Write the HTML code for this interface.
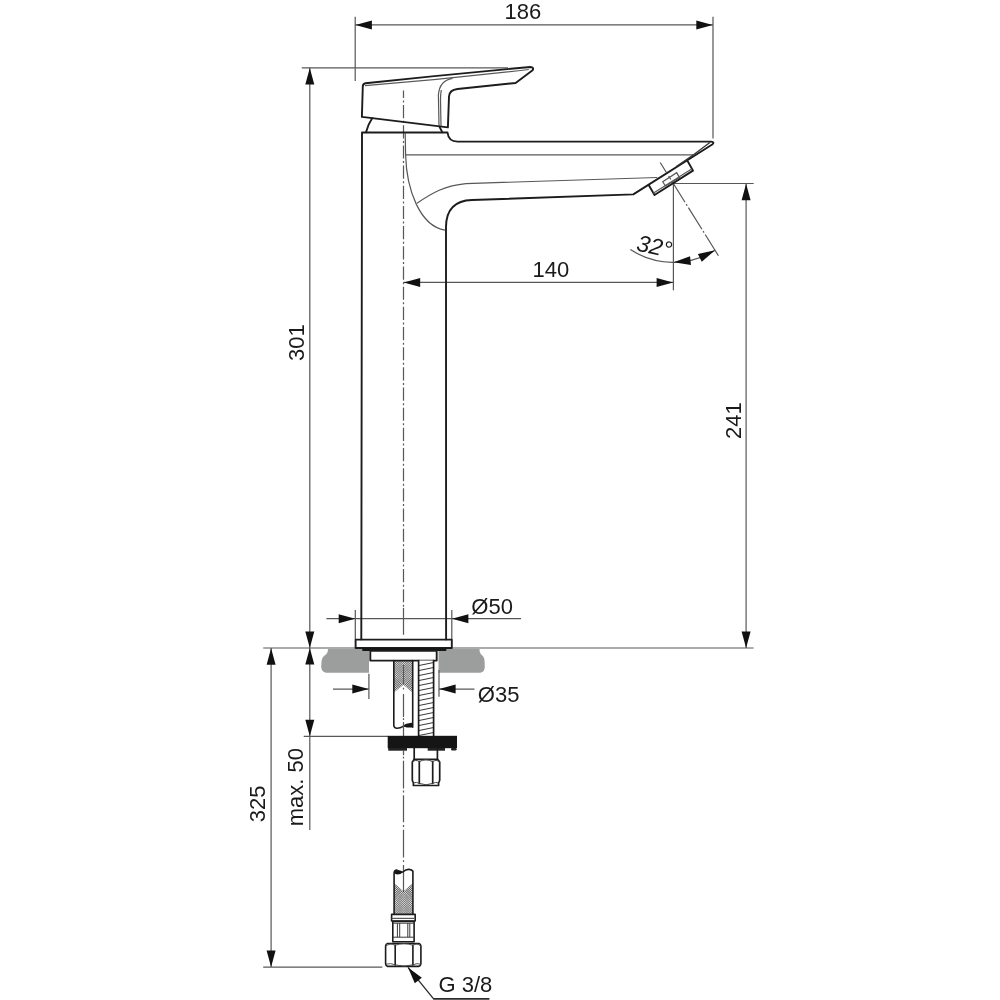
<!DOCTYPE html>
<html><head><meta charset="utf-8"><title>Technical drawing</title>
<style>
html,body{margin:0;padding:0;background:#fff;}
body{width:1000px;height:1000px;overflow:hidden;}
svg{display:block;will-change:transform;}
text{font-family:"Liberation Sans",sans-serif;fill:#1a1a1a;}
</style></head>
<body>
<svg width="1000" height="1000" viewBox="0 0 1000 1000">
<rect width="1000" height="1000" fill="#fff"/>
<path d="M328,649 L369,649 L369,672.7 L326,672.7 Q321.5,672 321.2,667 L321.5,661.5 Q322,656.5 326,654.5 Q328.2,653 328,649 Z" fill="#9c9e9d"/>
<path d="M438.5,649 L479.5,649 Q479.2,653 481.2,654.5 Q484.5,656.5 484.6,661.5 L484.8,667 Q484.6,672 480.5,672.7 L438.5,672.7 Z" fill="#9c9e9d"/>
<line x1="355.2" y1="16.8" x2="355.2" y2="81" stroke="#585858" stroke-width="1.22" fill="none" />
<line x1="713.0" y1="16.8" x2="713.0" y2="138.4" stroke="#585858" stroke-width="1.22" fill="none" />
<line x1="355.2" y1="24.9" x2="713" y2="24.9" stroke="#585858" stroke-width="1.22" fill="none" />
<polygon points="355.40,24.90 371.90,20.40 371.90,29.40" fill="#111"/>
<polygon points="712.80,24.90 696.30,29.40 696.30,20.40" fill="#111"/>
<line x1="301.8" y1="67.8" x2="508" y2="67.8" stroke="#585858" stroke-width="1.22" fill="none" />
<line x1="309.8" y1="67.8" x2="309.8" y2="829.9" stroke="#585858" stroke-width="1.22" fill="none" />
<polygon points="309.80,68.00 314.30,84.50 305.30,84.50" fill="#111"/>
<polygon points="309.80,648.00 305.30,631.50 314.30,631.50" fill="#111"/>
<line x1="263.2" y1="648.0" x2="753.6" y2="648.0" stroke="#585858" stroke-width="1.22" fill="none" />
<line x1="673.3" y1="183.5" x2="753.7" y2="183.5" stroke="#585858" stroke-width="1.22" fill="none" />
<line x1="746.1" y1="183.5" x2="746.1" y2="648.0" stroke="#585858" stroke-width="1.22" fill="none" />
<polygon points="746.10,183.70 750.60,200.20 741.60,200.20" fill="#111"/>
<polygon points="746.10,648.00 741.60,631.50 750.60,631.50" fill="#111"/>
<line x1="673.4" y1="183.5" x2="673.4" y2="290.3" stroke="#585858" stroke-width="1.22" fill="none" />
<line x1="403.5" y1="282.4" x2="673.3" y2="282.4" stroke="#585858" stroke-width="1.22" fill="none" />
<polygon points="403.70,282.40 420.20,277.90 420.20,286.90" fill="#111"/>
<polygon points="673.10,282.40 656.60,286.90 656.60,277.90" fill="#111"/>
<polygon points="309.80,648.00 314.30,664.50 305.30,664.50" fill="#111"/>
<polygon points="309.80,736.30 305.30,719.80 314.30,719.80" fill="#111"/>
<line x1="303.7" y1="736.3" x2="388" y2="736.3" stroke="#585858" stroke-width="1.22" fill="none" />
<line x1="271.1" y1="648.0" x2="271.1" y2="967.1" stroke="#585858" stroke-width="1.22" fill="none" />
<polygon points="271.10,648.20 275.60,664.70 266.60,664.70" fill="#111"/>
<polygon points="271.10,966.90 266.60,950.40 275.60,950.40" fill="#111"/>
<line x1="263.2" y1="967.1" x2="382.3" y2="967.1" stroke="#585858" stroke-width="1.22" fill="none" />
<line x1="355.3" y1="610" x2="355.3" y2="639" stroke="#585858" stroke-width="1.22" fill="none" />
<line x1="451.8" y1="610" x2="451.8" y2="639" stroke="#585858" stroke-width="1.22" fill="none" />
<line x1="326.4" y1="618.7" x2="521" y2="618.7" stroke="#585858" stroke-width="1.22" fill="none" />
<polygon points="355.20,618.70 338.70,623.20 338.70,614.20" fill="#111"/>
<polygon points="451.90,618.70 468.40,614.20 468.40,623.20" fill="#111"/>
<line x1="368.9" y1="673.7" x2="368.9" y2="699" stroke="#585858" stroke-width="1.22" fill="none" />
<line x1="439" y1="670" x2="439" y2="696.8" stroke="#585858" stroke-width="1.22" fill="none" />
<line x1="333" y1="689.1" x2="368.9" y2="689.1" stroke="#585858" stroke-width="1.22" fill="none" />
<line x1="439" y1="689.1" x2="474.5" y2="689.1" stroke="#585858" stroke-width="1.22" fill="none" />
<polygon points="368.80,689.10 352.30,693.60 352.30,684.60" fill="#111"/>
<polygon points="439.10,689.10 455.60,684.60 455.60,693.60" fill="#111"/>
<line x1="408" y1="967.4" x2="433.6" y2="998.8" stroke="#2a2a2a" stroke-width="1.3" fill="none" />
<line x1="433.2" y1="998.9" x2="489.4" y2="998.9" stroke="#2a2a2a" stroke-width="1.7" fill="none" />
<polygon points="408.00,967.60 421.82,977.67 414.79,983.30" fill="#111"/>
<path d="M630.38,249.59 A78.8,78.8 0 0 0 715.06,250.33" stroke="#585858" stroke-width="1.22" fill="none" />
<polygon points="673.60,262.30 690.07,256.22 690.96,264.97" fill="#111"/>
<polygon points="715.06,250.33 701.76,261.79 697.86,253.90" fill="#111"/>
<line x1="660.21" y1="162.55" x2="719.14" y2="256.86" stroke="#585858" stroke-width="1.22" fill="none" stroke-dasharray="11.4 4.4 4.2 2.1 24.7 2.3 1.8 2.3 25.5 2.2 1.8 2.2 25"/>
<line x1="403.5" y1="90.5" x2="403.5" y2="607.6" stroke="#585858" stroke-width="1.22" fill="none" stroke-dasharray="13.17 2.5 2 2.5" stroke-dashoffset="5.57"/>
<line x1="403.5" y1="607.9" x2="403.5" y2="634.8" stroke="#585858" stroke-width="1.22" fill="none"/>
<line x1="403.5" y1="750.7" x2="403.5" y2="892" stroke="#585858" stroke-width="1.22" fill="none" stroke-dasharray="4.5 1.6 1.8 2.1 27.7 2.2 1.8 2.8 27 2.9 1.8 2.8 27.8 2.8 1.8 2.9 27"/>
<path d="M361.9,116.9 L362.8,86.2 Q363,83.7 365.5,83.3 Q447.8,74.4 530.3,67.0 Q534.4,67.5 532.6,70.2 L515.6,83 L457.5,89 Q449.4,89.9 449,96.5 L447.9,127.4 Z" stroke="#1c1c1c" stroke-width="1.9" fill="none" stroke-linejoin="round" stroke-linecap="round" fill="#fff"/>
<path d="M365,85.6 Q448,79.2 528.8,69.5" stroke="#585858" stroke-width="1.22" fill="none" />
<path d="M452.5,78.3 Q439.4,80.5 438.4,95 L439,125.6" stroke="#585858" stroke-width="1.22" fill="none" />
<path d="M441.3,90 Q440.4,95 440.5,100 L441,125.9" stroke="#585858" stroke-width="1.22" fill="none" />
<path d="M366,132.2 Q368,124.5 372.2,118.3" stroke="#1c1c1c" stroke-width="1.9" fill="none" stroke-linejoin="round" stroke-linecap="round" />
<path d="M439.3,126.4 L442.2,132.2" stroke="#1c1c1c" stroke-width="1.9" fill="none" stroke-linejoin="round" stroke-linecap="round" />
<path d="M361.3,639.4 L362.0,132.5 L447.5,132.5 Q448.5,141.6 457.5,141.6 L711.2,141.6 Q714.6,142 712.6,144.2 L633.3,194.4 L472,200 Q446.2,200.8 446,227 L446.1,639.4" stroke="#1c1c1c" stroke-width="1.9" fill="none" stroke-linejoin="round" stroke-linecap="round" />
<path d="M405.6,154.8 L693.5,154.8" stroke="#585858" stroke-width="1.22" fill="none" />
<path d="M676,166.8 L693.5,154.8 L710.2,142.3" stroke="#333" stroke-width="1.3" fill="none" />
<path d="M405.2,133 L405.6,154.8 C406.5,190 420,226 445,230.2" stroke="#585858" stroke-width="1.22" fill="none" />
<path d="M417,203.3 C432,193 445,185.5 466,183.6 L657.3,177.5" stroke="#585858" stroke-width="1.22" fill="none" />
<path d="M648.7,185.0 L654.5,195.0 L693.0,170.6 L687.7,161.3" stroke="#1c1c1c" stroke-width="1.9" fill="none" stroke-linejoin="round" stroke-linecap="round" />
<path d="M653.2,193.3 L691.6,169.0" stroke="#585858" stroke-width="1.22" fill="none" />
<path d="M662.7,181.8 L676.7,172.7 L679.5,177.6 L665.5,186 Z" stroke="#585858" stroke-width="1.22" fill="none" />
<rect x="355.6" y="639.6" width="96.2" height="8.4" stroke="#1c1c1c" stroke-width="1.9" fill="none" stroke-linejoin="round" stroke-linecap="round" fill="#fff"/>
<rect x="362.3" y="648" width="84" height="3.0" fill="#161616"/>
<rect x="370.3" y="650.9" width="66.4" height="9.7" stroke="#1c1c1c" stroke-width="1.9" fill="none" stroke-linejoin="round" stroke-linecap="round" fill="#fff"/>
<clipPath id="c1"><polygon points="393.8,660.5 412.7,660.5 412.7,692.4 403.5,684.8 393.8,692.4"/></clipPath>
<path d="M393.80,647.98L403.50,640.21L412.70,647.58M393.80,649.84L403.50,642.07L412.70,649.44M393.80,651.70L403.50,643.93L412.70,651.30M393.80,653.55L403.50,645.78L412.70,653.15M393.80,655.41L403.50,647.64L412.70,655.01M393.80,657.27L403.50,649.50L412.70,656.87M393.80,659.13L403.50,651.36L412.70,658.73M393.80,660.99L403.50,653.21L412.70,660.59M393.80,662.84L403.50,655.07L412.70,662.44M393.80,664.70L403.50,656.93L412.70,664.30M393.80,666.56L403.50,658.79L412.70,666.16M393.80,668.42L403.50,660.65L412.70,668.02M393.80,670.28L403.50,662.50L412.70,669.88M393.80,672.13L403.50,664.36L412.70,671.73M393.80,673.99L403.50,666.22L412.70,673.59M393.80,675.85L403.50,668.08L412.70,675.45M393.80,677.71L403.50,669.94L412.70,677.31M393.80,679.57L403.50,671.79L412.70,679.16M393.80,681.42L403.50,673.65L412.70,681.02M393.80,683.28L403.50,675.51L412.70,682.88M393.80,685.14L403.50,677.37L412.70,684.74M393.80,687.00L403.50,679.23L412.70,686.60M393.80,688.86L403.50,681.08L412.70,688.45M393.80,690.71L403.50,682.94L412.70,690.31M393.80,692.57L403.50,684.80L412.70,692.17M393.80,694.43L403.50,686.66L412.70,694.03M393.80,696.29L403.50,688.52L412.70,695.89M393.80,698.15L403.50,690.37L412.70,697.74M393.80,700.00L403.50,692.23L412.70,699.60M393.80,701.86L403.50,694.09L412.70,701.46M393.80,703.72L403.50,695.95L412.70,703.32M393.80,705.58L403.50,697.81L412.70,705.18M393.80,707.43L403.50,699.66L412.70,707.03M393.80,709.29L403.50,701.52L412.70,708.89M393.80,711.15L403.50,703.38L412.70,710.75M393.80,713.01L403.50,705.24L412.70,712.61M393.80,714.87L403.50,707.10L412.70,714.47M393.80,716.72L403.50,708.95L412.70,716.32M393.80,718.58L403.50,710.81L412.70,718.18" stroke="#1c1c1c" stroke-width="0.44" fill="none" stroke-linejoin="miter" clip-path="url(#c1)"/>
<clipPath id="c2"><polygon points="393.8,660.5 412.7,660.5 412.7,677.1999999999999 403.5,684.8 393.8,677.1999999999999"/></clipPath>
<path d="M393.80,632.44L403.50,640.21L412.70,632.84M393.80,634.30L403.50,642.07L412.70,634.70M393.80,636.15L403.50,643.93L412.70,636.55M393.80,638.01L403.50,645.78L412.70,638.41M393.80,639.87L403.50,647.64L412.70,640.27M393.80,641.73L403.50,649.50L412.70,642.13M393.80,643.59L403.50,651.36L412.70,643.99M393.80,645.44L403.50,653.21L412.70,645.84M393.80,647.30L403.50,655.07L412.70,647.70M393.80,649.16L403.50,656.93L412.70,649.56M393.80,651.02L403.50,658.79L412.70,651.42M393.80,652.88L403.50,660.65L412.70,653.28M393.80,654.73L403.50,662.50L412.70,655.13M393.80,656.59L403.50,664.36L412.70,656.99M393.80,658.45L403.50,666.22L412.70,658.85M393.80,660.31L403.50,668.08L412.70,660.71M393.80,662.17L403.50,669.94L412.70,662.57M393.80,664.02L403.50,671.79L412.70,664.42M393.80,665.88L403.50,673.65L412.70,666.28M393.80,667.74L403.50,675.51L412.70,668.14M393.80,669.60L403.50,677.37L412.70,670.00M393.80,671.45L403.50,679.23L412.70,671.86M393.80,673.31L403.50,681.08L412.70,673.71M393.80,675.17L403.50,682.94L412.70,675.57M393.80,677.03L403.50,684.80L412.70,677.43M393.80,678.89L403.50,686.66L412.70,679.29M393.80,680.74L403.50,688.52L412.70,681.15M393.80,682.60L403.50,690.37L412.70,683.00M393.80,684.46L403.50,692.23L412.70,684.86M393.80,686.32L403.50,694.09L412.70,686.72M393.80,688.18L403.50,695.95L412.70,688.58M393.80,690.03L403.50,697.81L412.70,690.44M393.80,691.89L403.50,699.66L412.70,692.29M393.80,693.75L403.50,701.52L412.70,694.15M393.80,695.61L403.50,703.38L412.70,696.01" stroke="#1c1c1c" stroke-width="0.44" fill="none" stroke-linejoin="miter" clip-path="url(#c2)"/>
<clipPath id="c3"><polygon points="393.8,677.1999999999999 403.5,684.8 412.7,677.1999999999999 412.7,692.4 403.5,684.8 393.8,692.4"/></clipPath>
<path d="M393.80,664.70L403.50,656.93L412.70,664.30M393.80,666.56L403.50,658.79L412.70,666.16M393.80,668.42L403.50,660.65L412.70,668.02M393.80,670.28L403.50,662.50L412.70,669.88M393.80,672.13L403.50,664.36L412.70,671.73M393.80,673.99L403.50,666.22L412.70,673.59M393.80,675.85L403.50,668.08L412.70,675.45M393.80,677.71L403.50,669.94L412.70,677.31M393.80,679.57L403.50,671.79L412.70,679.16M393.80,681.42L403.50,673.65L412.70,681.02M393.80,683.28L403.50,675.51L412.70,682.88M393.80,685.14L403.50,677.37L412.70,684.74M393.80,687.00L403.50,679.23L412.70,686.60M393.80,688.86L403.50,681.08L412.70,688.45M393.80,690.71L403.50,682.94L412.70,690.31M393.80,692.57L403.50,684.80L412.70,692.17M393.80,694.43L403.50,686.66L412.70,694.03M393.80,696.29L403.50,688.52L412.70,695.89M393.80,698.15L403.50,690.37L412.70,697.74M393.80,700.00L403.50,692.23L412.70,699.60M393.80,701.86L403.50,694.09L412.70,701.46M393.80,703.72L403.50,695.95L412.70,703.32M393.80,705.58L403.50,697.81L412.70,705.18M393.80,707.43L403.50,699.66L412.70,707.03M393.80,709.29L403.50,701.52L412.70,708.89M393.80,711.15L403.50,703.38L412.70,710.75M393.80,713.01L403.50,705.24L412.70,712.61M393.80,714.87L403.50,707.10L412.70,714.47M393.80,716.72L403.50,708.95L412.70,716.32M393.80,718.58L403.50,710.81L412.70,718.18" stroke="#1c1c1c" stroke-width="0.55" fill="none" stroke-linejoin="miter" clip-path="url(#c3)"/>
<path d="M393.8,660.5 L393.8,725 Q393.8,728.3 397.2,728.2 Q400.5,728 402.6,726.6 Q406,724 411.6,723.6 M412.7,727.2 L412.7,660.5" stroke="#1c1c1c" stroke-width="1.6" fill="none" stroke-linejoin="round" stroke-linecap="round" />
<path d="M403.6,726.4 Q406.5,723.8 412.6,723.4 L412.6,727.3 Q408.5,728.2 403.6,726.4 Z" fill="#151515"/>
<line x1="403.5" y1="665" x2="403.5" y2="736" stroke="#585858" stroke-width="1.22" fill="none" stroke-dasharray="19.5 3.2 1.8 4.5 23 1.2 1.8 2 14"/>
<rect x="418.6" y="660.5" width="15.0" height="75.8" fill="#fff"/>
<clipPath id="rod"><rect x="418.6" y="660.5" width="15.0" height="75.8"/></clipPath>
<path d="M418.6,665.60L433.6,662.50M418.6,670.60L433.6,667.50M418.6,675.60L433.6,672.50M418.6,680.60L433.6,677.50M418.6,685.60L433.6,682.50M418.6,690.60L433.6,687.50M418.6,695.60L433.6,692.50M418.6,700.60L433.6,697.50M418.6,705.60L433.6,702.50M418.6,710.60L433.6,707.50M418.6,715.60L433.6,712.50M418.6,720.60L433.6,717.50M418.6,725.60L433.6,722.50M418.6,730.60L433.6,727.50M418.6,735.60L433.6,732.50" stroke="#222" stroke-width="0.9" fill="none" clip-path="url(#rod)"/>
<line x1="418.6" y1="660.5" x2="418.6" y2="736.3" stroke="#1c1c1c" stroke-width="1.7" fill="none" stroke-linejoin="round" stroke-linecap="round" />
<line x1="433.6" y1="660.5" x2="433.6" y2="736.3" stroke="#1c1c1c" stroke-width="1.7" fill="none" stroke-linejoin="round" stroke-linecap="round" />
<rect x="387.7" y="735.8" width="69.3" height="12.4" fill="#151515"/>
<rect x="388.2" y="748" width="18.8" height="2.7" fill="#222"/>
<rect x="427.7" y="748" width="17.3" height="2.7" fill="#222"/>
<rect x="451" y="748" width="5.6" height="2.5" rx="1.2" fill="#222"/>
<line x1="414.2" y1="748" x2="414.2" y2="759.2" stroke="#1c1c1c" stroke-width="1.7" fill="none" stroke-linejoin="round" stroke-linecap="round" />
<line x1="437.4" y1="748" x2="437.4" y2="759.2" stroke="#1c1c1c" stroke-width="1.7" fill="none" stroke-linejoin="round" stroke-linecap="round" />
<path d="M414.2,759.3 L437.6,759.3 L439.7,762 L439.7,780.3 L438.6,783 L438.6,785.5 L413.4,785.5 L413.4,783 L412.3,780.3 L412.3,762 Z" stroke="#1c1c1c" stroke-width="1.7" fill="none" stroke-linejoin="round" stroke-linecap="round" fill="#fff"/>
<path d="M419.3,761.5 L419.3,783.3 M432.7,761.5 L432.7,783.3" stroke="#1c1c1c" stroke-width="1.7" fill="none" stroke-linejoin="round" stroke-linecap="round" />
<path d="M412.3,762.3 Q415.8,758.8 419.3,761.8 Q426,757.6 432.7,761.8 Q436.2,758.8 439.7,762.3" stroke="#444" stroke-width="1" fill="none" />
<path d="M413.4,783 Q416.4,781.6 419.3,783.4 Q426,786.2 432.7,783.4 Q435.6,781.6 438.6,783" stroke="#444" stroke-width="1" fill="none" />
<clipPath id="c4"><polygon points="394.1,883 403.5,891.4 412.9,883 412.9,914.2 394.1,914.2"/></clipPath>
<path d="M394.10,854.14L403.50,861.67L412.90,854.14M394.10,856.00L403.50,863.53L412.90,856.00M394.10,857.86L403.50,865.39L412.90,857.86M394.10,859.72L403.50,867.25L412.90,859.72M394.10,861.57L403.50,869.10L412.90,861.57M394.10,863.43L403.50,870.96L412.90,863.43M394.10,865.29L403.50,872.82L412.90,865.29M394.10,867.15L403.50,874.68L412.90,867.15M394.10,869.01L403.50,876.54L412.90,869.01M394.10,870.86L403.50,878.39L412.90,870.86M394.10,872.72L403.50,880.25L412.90,872.72M394.10,874.58L403.50,882.11L412.90,874.58M394.10,876.44L403.50,883.97L412.90,876.44M394.10,878.30L403.50,885.83L412.90,878.30M394.10,880.15L403.50,887.68L412.90,880.15M394.10,882.01L403.50,889.54L412.90,882.01M394.10,883.87L403.50,891.40L412.90,883.87M394.10,885.73L403.50,893.26L412.90,885.73M394.10,887.59L403.50,895.12L412.90,887.59M394.10,889.44L403.50,896.97L412.90,889.44M394.10,891.30L403.50,898.83L412.90,891.30M394.10,893.16L403.50,900.69L412.90,893.16M394.10,895.02L403.50,902.55L412.90,895.02M394.10,896.87L403.50,904.41L412.90,896.87M394.10,898.73L403.50,906.26L412.90,898.73M394.10,900.59L403.50,908.12L412.90,900.59M394.10,902.45L403.50,909.98L412.90,902.45M394.10,904.31L403.50,911.84L412.90,904.31M394.10,906.16L403.50,913.70L412.90,906.16M394.10,908.02L403.50,915.55L412.90,908.02M394.10,909.88L403.50,917.41L412.90,909.88M394.10,911.74L403.50,919.27L412.90,911.74M394.10,913.60L403.50,921.13L412.90,913.60M394.10,915.45L403.50,922.99L412.90,915.45M394.10,917.31L403.50,924.84L412.90,917.31M394.10,919.17L403.50,926.70L412.90,919.17M394.10,921.03L403.50,928.56L412.90,921.03M394.10,922.89L403.50,930.42L412.90,922.89M394.10,924.74L403.50,932.27L412.90,924.74M394.10,926.60L403.50,934.13L412.90,926.60" stroke="#1c1c1c" stroke-width="0.44" fill="none" stroke-linejoin="miter" clip-path="url(#c4)"/>
<clipPath id="c5"><polygon points="394.1,899.8 403.5,891.4 412.9,899.8 412.9,914.2 394.1,914.2"/></clipPath>
<path d="M394.10,878.49L403.50,870.96L412.90,878.49M394.10,880.35L403.50,872.82L412.90,880.35M394.10,882.21L403.50,874.68L412.90,882.21M394.10,884.07L403.50,876.54L412.90,884.07M394.10,885.93L403.50,878.39L412.90,885.93M394.10,887.78L403.50,880.25L412.90,887.78M394.10,889.64L403.50,882.11L412.90,889.64M394.10,891.50L403.50,883.97L412.90,891.50M394.10,893.36L403.50,885.83L412.90,893.36M394.10,895.21L403.50,887.68L412.90,895.21M394.10,897.07L403.50,889.54L412.90,897.07M394.10,898.93L403.50,891.40L412.90,898.93M394.10,900.79L403.50,893.26L412.90,900.79M394.10,902.65L403.50,895.12L412.90,902.65M394.10,904.50L403.50,896.97L412.90,904.50M394.10,906.36L403.50,898.83L412.90,906.36M394.10,908.22L403.50,900.69L412.90,908.22M394.10,910.08L403.50,902.55L412.90,910.08M394.10,911.94L403.50,904.41L412.90,911.94M394.10,913.79L403.50,906.26L412.90,913.79M394.10,915.65L403.50,908.12L412.90,915.65M394.10,917.51L403.50,909.98L412.90,917.51M394.10,919.37L403.50,911.84L412.90,919.37M394.10,921.23L403.50,913.70L412.90,921.23M394.10,923.08L403.50,915.55L412.90,923.08M394.10,924.94L403.50,917.41L412.90,924.94M394.10,926.80L403.50,919.27L412.90,926.80M394.10,928.66L403.50,921.13L412.90,928.66M394.10,930.52L403.50,922.99L412.90,930.52M394.10,932.37L403.50,924.84L412.90,932.37M394.10,934.23L403.50,926.70L412.90,934.23M394.10,936.09L403.50,928.56L412.90,936.09M394.10,937.95L403.50,930.42L412.90,937.95M394.10,939.81L403.50,932.27L412.90,939.81M394.10,941.66L403.50,934.13L412.90,941.66" stroke="#1c1c1c" stroke-width="0.44" fill="none" stroke-linejoin="miter" clip-path="url(#c5)"/>
<clipPath id="c6"><polygon points="394.1,883 403.5,891.4 412.9,883 412.9,899.8 403.5,891.4 394.1,899.8"/></clipPath>
<path d="M394.10,854.14L403.50,861.67L412.90,854.14M394.10,856.00L403.50,863.53L412.90,856.00M394.10,857.86L403.50,865.39L412.90,857.86M394.10,859.72L403.50,867.25L412.90,859.72M394.10,861.57L403.50,869.10L412.90,861.57M394.10,863.43L403.50,870.96L412.90,863.43M394.10,865.29L403.50,872.82L412.90,865.29M394.10,867.15L403.50,874.68L412.90,867.15M394.10,869.01L403.50,876.54L412.90,869.01M394.10,870.86L403.50,878.39L412.90,870.86M394.10,872.72L403.50,880.25L412.90,872.72M394.10,874.58L403.50,882.11L412.90,874.58M394.10,876.44L403.50,883.97L412.90,876.44M394.10,878.30L403.50,885.83L412.90,878.30M394.10,880.15L403.50,887.68L412.90,880.15M394.10,882.01L403.50,889.54L412.90,882.01M394.10,883.87L403.50,891.40L412.90,883.87M394.10,885.73L403.50,893.26L412.90,885.73M394.10,887.59L403.50,895.12L412.90,887.59M394.10,889.44L403.50,896.97L412.90,889.44M394.10,891.30L403.50,898.83L412.90,891.30M394.10,893.16L403.50,900.69L412.90,893.16M394.10,895.02L403.50,902.55L412.90,895.02M394.10,896.87L403.50,904.41L412.90,896.87M394.10,898.73L403.50,906.26L412.90,898.73M394.10,900.59L403.50,908.12L412.90,900.59M394.10,902.45L403.50,909.98L412.90,902.45M394.10,904.31L403.50,911.84L412.90,904.31M394.10,906.16L403.50,913.70L412.90,906.16M394.10,908.02L403.50,915.55L412.90,908.02M394.10,909.88L403.50,917.41L412.90,909.88M394.10,911.74L403.50,919.27L412.90,911.74" stroke="#1c1c1c" stroke-width="0.55" fill="none" stroke-linejoin="miter" clip-path="url(#c6)"/>
<path d="M394.1,914.2 L394.1,873 Q394.1,870.2 397,870.1 M402.8,872 Q406,869.2 409,869.4 Q412,869.8 412.9,871.2 L412.9,914.2" stroke="#1c1c1c" stroke-width="1.6" fill="none" stroke-linejoin="round" stroke-linecap="round" />
<path d="M394.3,872.6 Q395.2,870 398.2,870 Q401.5,870.6 403.2,871.9 Q400.5,874.6 397.6,874.6 Q394.8,874.6 394.3,872.6 Z" fill="#151515"/>
<rect x="391.6" y="914.4" width="23.6" height="6.6" stroke="#1c1c1c" stroke-width="1.6" fill="none" stroke-linejoin="round" stroke-linecap="round" fill="#fff"/>
<line x1="391.6" y1="918.4" x2="415.2" y2="918.4" stroke="#585858" stroke-width="1.22" fill="none" />
<rect x="392.8" y="921.4" width="21.3" height="20.4" stroke="#1c1c1c" stroke-width="1.6" fill="none" stroke-linejoin="round" stroke-linecap="round" fill="#fff"/>
<line x1="392.8" y1="923.2" x2="414.1" y2="923.2" stroke="#3a3a3a" stroke-width="1.0" fill="none" />
<line x1="392.8" y1="937.2" x2="414.1" y2="937.2" stroke="#3a3a3a" stroke-width="1.0" fill="none" />
<line x1="397.4" y1="923.2" x2="397.4" y2="937.2" stroke="#3a3a3a" stroke-width="1.0" fill="none" />
<line x1="399.7" y1="923.2" x2="399.7" y2="937.2" stroke="#3a3a3a" stroke-width="1.0" fill="none" />
<line x1="407.8" y1="923.2" x2="407.8" y2="937.2" stroke="#3a3a3a" stroke-width="1.0" fill="none" />
<line x1="409.8" y1="923.2" x2="409.8" y2="937.2" stroke="#3a3a3a" stroke-width="1.0" fill="none" />
<path d="M387.4,943.5 L419,943.5 Q420.8,944 420.9,946 L420.9,963.6 Q420.7,966 418.8,966.4 L387.6,966.4 Q385.7,966 385.6,963.6 L385.6,946 Q385.7,944 387.4,943.5 Z" stroke="#1c1c1c" stroke-width="1.6" fill="none" stroke-linejoin="round" stroke-linecap="round" fill="#fff"/>
<path d="M395.2,945 L395.2,964.9 M412.9,945 L412.9,964.9" stroke="#1c1c1c" stroke-width="1.6" fill="none" stroke-linejoin="round" stroke-linecap="round" />
<path d="M385.8,946.2 Q390.4,942.4 395.2,945.4 Q404,941.6 412.9,945.4 Q417.2,942.4 420.7,946.2" stroke="#444" stroke-width="0.9" fill="none" />
<path d="M385.9,964.2 Q390.4,962.8 395.2,964.8 Q404,967.6 412.9,964.8 Q417.2,962.8 420.6,964.2" stroke="#444" stroke-width="0.9" fill="none" />
<text x="504.6" y="18.8" font-size="22" text-anchor="start">186</text>
<text x="532.6" y="277" font-size="22" text-anchor="start">140</text>
<text x="471.3" y="613.6" font-size="22" text-anchor="start">Ø50</text>
<text x="477.8" y="702.3" font-size="22" text-anchor="start">Ø35</text>
<text x="438.5" y="992.0" font-size="22" text-anchor="start">G 3/8</text>
<text x="303.5" y="361" font-size="22" text-anchor="start" transform="rotate(-90 303.5 361)">301</text>
<text x="740.8" y="439" font-size="22" text-anchor="start" transform="rotate(-90 740.8 439)">241</text>
<text x="265.1" y="822.3" font-size="22" text-anchor="start" transform="rotate(-90 265.1 822.3)">325</text>
<text x="303.3" y="826.2" font-size="22" text-anchor="start" transform="rotate(-90 303.3 826.2)">max. 50</text>
<text x="652.64" y="254.14" font-size="23.2" font-style="italic" text-anchor="middle" transform="rotate(13 652.64 254.14)">32°</text>
</svg>
</body></html>
